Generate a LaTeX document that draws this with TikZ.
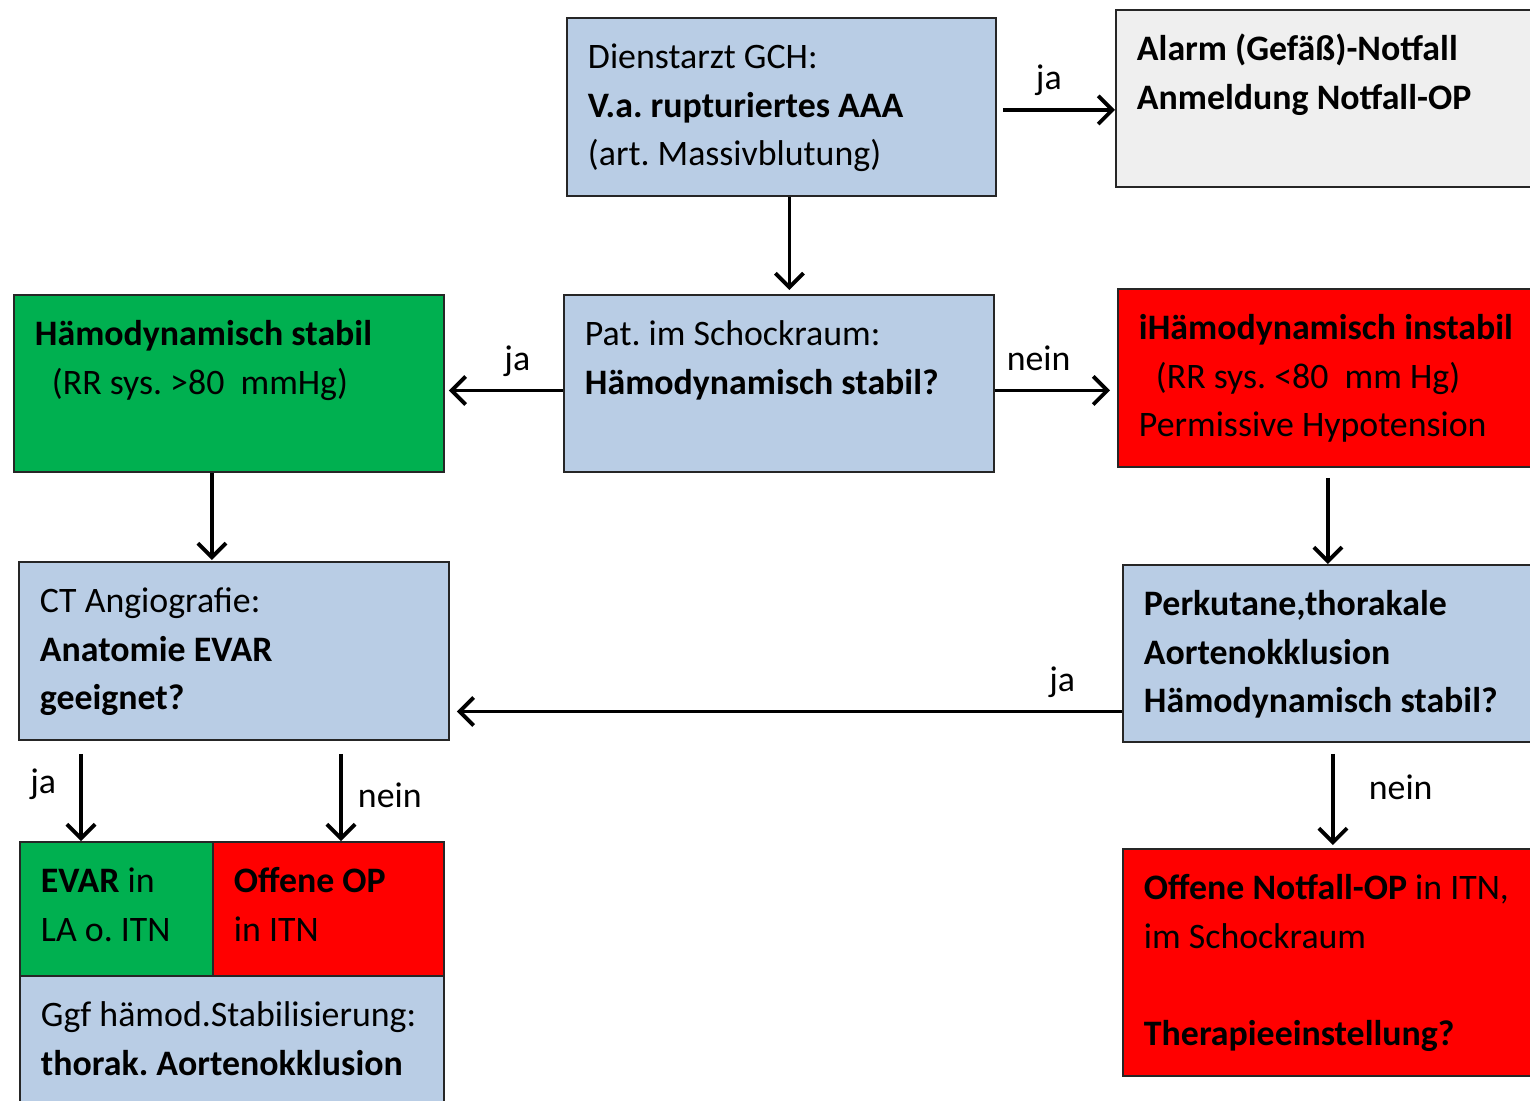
\documentclass[tikz,border=0pt]{standalone}
\usepackage{fontspec}
\setmainfont{Carlito}
\usepackage{tikz}
\usetikzlibrary{%
  arrows.meta,%
  calc,%
  positioning}

\definecolor{kastenblau}{HTML}{B9CDE5}
\definecolor{kastengruen}{HTML}{00B050}
\definecolor{kastenrot}{HTML}{FF0000}
\definecolor{kastengrau}{HTML}{EFEFEF}

\frenchspacing
\newcommand{\kasten}[3]{\parbox[c][#2][t]{#1}{\raggedright\strut #3}}

\tikzset{
  box/.style={rectangle,draw=black!85,line width=1.1pt,anchor=north west,inner xsep=0.42cm,inner ysep=0.32cm},
  pfeil/.style={line width=2.2pt,-{Straight Barb[length=8pt,width=16pt]}},
  marke/.style={inner sep=0,text depth=0.25em}
}

\begin{document}
\begin{tikzpicture}[x=0.02cm,y=-0.02cm,font=\fontsize{20.4pt}{27.8pt}\selectfont]
\useasboundingbox (0,0) rectangle (1530,1100);
\clip (0,0) rectangle (1530,1100);
% Kaesten
\node (dienst) at (566,17) [box,fill=kastenblau] {\kasten{7.74cm}{2.92cm}{Dienstarzt GCH:\\\textbf{V.a. rupturiertes AAA}\\(art. Massivblutung)}};
\node (alarm) at (1115,9) [box,fill=kastengrau] {\kasten{7.76cm}{2.90cm}{\textbf{Alarm (Gefäß)-Notfall}\\\textbf{Anmeldung Notfall-OP}}};
\node (pat) at (563,294) [box,fill=kastenblau] {\kasten{7.76cm}{2.90cm}{Pat. im Schockraum:\\\textbf{Hämodynamisch stabil?}}};
\node (stabil) at (13,294) [box,fill=kastengruen] {\kasten{7.76cm}{2.90cm}{\textbf{Hämodynamisch stabil}\\\hspace*{0.34cm}(RR sys. >80\ \ mmHg)}};
\node (instabil) at (1117,288) [box,fill=kastenrot] {\kasten{7.76cm}{2.92cm}{\textbf{iHämodynamisch instabil}\\\hspace*{0.34cm}(RR sys. <80\ \ mm Hg)\\Permissive Hypotension}};
\node (ct) at (18,561) [box,fill=kastenblau] {\kasten{7.76cm}{2.92cm}{CT Angiografie:\\\textbf{Anatomie EVAR}\\\textbf{geeignet?}}};
\node (perk) at (1122,564) [box,fill=kastenblau] {\kasten{7.76cm}{2.90cm}{\textbf{Perkutane,thorakale}\\\textbf{Aortenokklusion}\\\textbf{Hämodynamisch stabil?}}};
\node (evar) at (19,841) [box,fill=kastengruen] {\kasten{3.02cm}{2.04cm}{\textbf{EVAR} in\\LA o. ITN}};
\node (offen) at (212,841) [box,fill=kastenrot] {\kasten{3.78cm}{2.04cm}{\textbf{Offene OP}\\in ITN}};
\node (ggf) at (19,975) [box,fill=kastenblau] {\kasten{7.64cm}{2.06cm}{Ggf hämod.Stabilisierung:\\\textbf{thorak. Aortenokklusion}}};
\node (notfall) at (1122,848) [box,fill=kastenrot] {\kasten{7.76cm}{3.90cm}{\textbf{Offene Notfall-OP} in ITN,\\im Schockraum\\[\baselineskip]\textbf{Therapieeinstellung?}}};
% Pfeile
\draw[pfeil] ($(dienst.east)+(6,3)$) -- node[marke,pos=0.41,above=0.28cm] (lja1) {ja} ($(dienst.east -| alarm.west)+(0,3)$);
\draw[pfeil] ($(dienst.south)+(8,0)$) -- ($(dienst.south |- pat.north)+(8,-4)$);
\draw[pfeil] ($(pat.west)+(0,7)$) -- node[marke,pos=0.4,above=0.28cm] (lja2) {ja} ($(pat.west -| stabil.east)+(4,7)$);
\draw[pfeil] ($(pat.east)+(0,7)$) -- node[marke,pos=0.38,above=0.28cm] (lnein1) {nein} ($(pat.east -| instabil.west)+(-7,7)$);
\draw[pfeil] ($(stabil.south)+(-17,0)$) -- ($(stabil.south |- ct.north)+(-17,-1)$);
\draw[pfeil] ($(instabil.south)+(-5,10)$) -- ($(instabil.south |- perk.north)+(-5,0)$);
\draw[pfeil] ($(perk.west)+(0,58)$) -- node[marke,pos=0.09,above=0.28cm] (lja3) {ja} ($(perk.west -| ct.east)+(7,58)$);
\draw[pfeil] ($(ct.south west)+(63,13)$) -- node[marke,pos=0.34,left=0.46cm] (lja4) {ja} ($(evar.north west)+(62,0)$);
\draw[pfeil] ($(ct.south west)+(323,13)$) -- node[marke,midway,right=0.3cm] (lnein2) {nein} ($(offen.north west)+(129,0)$);
\draw[pfeil] ($(perk.south)+(-5,11)$) -- node[marke,pos=0.39,right=0.68cm] (lnein3) {nein} ($(perk.south |- notfall.north)+(-5,-3)$);
\end{tikzpicture}
\end{document}
